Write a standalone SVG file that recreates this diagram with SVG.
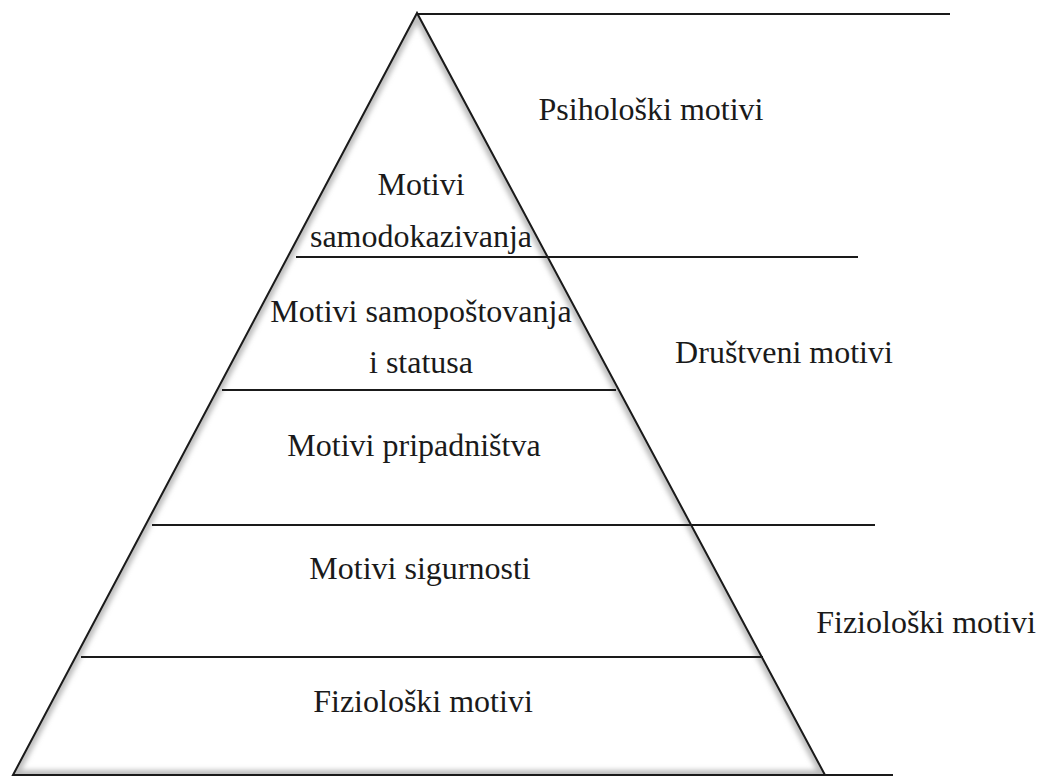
<svg xmlns="http://www.w3.org/2000/svg" width="1043" height="778" viewBox="0 0 1043 778">
  <style>
    .ln { stroke: #1a1a1a; stroke-width: 2; fill: none; }
  </style>
  <defs>
    <clipPath id="tri">
      <polygon points="417,13 13,775 825,775"/>
    </clipPath>
    <filter id="blur" x="-10%" y="-10%" width="120%" height="120%">
      <feGaussianBlur stdDeviation="2.5"/>
    </filter>
  </defs>
  <rect width="1043" height="778" fill="#ffffff"/>

  <g id="pyramid">
    <polygon points="417,13 13,775 825,775" fill="#ffffff"/>
    <g clip-path="url(#tri)">
      <polygon points="417,13 13,775 825,775" fill="none" stroke="#bdbdbd" stroke-width="10" filter="url(#blur)"/>
    </g>
    <polygon points="417,13 13,775 825,775" class="ln" stroke-width="2.5" stroke-linejoin="miter"/>
  </g>

  <g id="connectors">
    <line class="ln" x1="417" y1="14" x2="950" y2="14"/>
    <line class="ln" x1="296" y1="257" x2="858" y2="257"/>
    <line class="ln" x1="222" y1="390" x2="616" y2="390"/>
    <line class="ln" x1="152" y1="525" x2="875" y2="525"/>
    <line class="ln" x1="81" y1="657" x2="763" y2="657"/>
    <line class="ln" x1="825" y1="775" x2="893" y2="775"/>
  </g>

  <g id="level-samodokazivanje">
    <text x="421" y="195" font-family="Liberation Serif" font-size="32" fill="#1a1a1a" text-anchor="middle">Motivi</text>
    <text x="421" y="247" font-family="Liberation Serif" font-size="32" fill="#1a1a1a" text-anchor="middle">samodokazivanja</text>
  </g>
  <g id="level-samopostovanje">
    <text x="421" y="322" font-family="Liberation Serif" font-size="32" fill="#1a1a1a" text-anchor="middle">Motivi samopoštovanja</text>
    <text x="421" y="373" font-family="Liberation Serif" font-size="32" fill="#1a1a1a" text-anchor="middle">i statusa</text>
  </g>
  <g id="level-pripadnistvo">
    <text x="414" y="456" font-family="Liberation Serif" font-size="32" fill="#1a1a1a" text-anchor="middle">Motivi pripadništva</text>
  </g>
  <g id="level-sigurnost">
    <text x="420" y="579" font-family="Liberation Serif" font-size="32" fill="#1a1a1a" text-anchor="middle">Motivi sigurnosti</text>
  </g>
  <g id="level-fizioloski">
    <text x="423" y="712" font-family="Liberation Serif" font-size="32" fill="#1a1a1a" text-anchor="middle">Fiziološki motivi</text>
  </g>
  <g id="group-psiholoski">
    <text x="651" y="120" font-family="Liberation Serif" font-size="32" fill="#1a1a1a" text-anchor="middle">Psihološki motivi</text>
  </g>
  <g id="group-drustveni">
    <text x="784" y="363" font-family="Liberation Serif" font-size="32" fill="#1a1a1a" text-anchor="middle">Društveni motivi</text>
  </g>
  <g id="group-fizioloski">
    <text x="926" y="633" font-family="Liberation Serif" font-size="32" fill="#1a1a1a" text-anchor="middle">Fiziološki motivi</text>
  </g>
</svg>
